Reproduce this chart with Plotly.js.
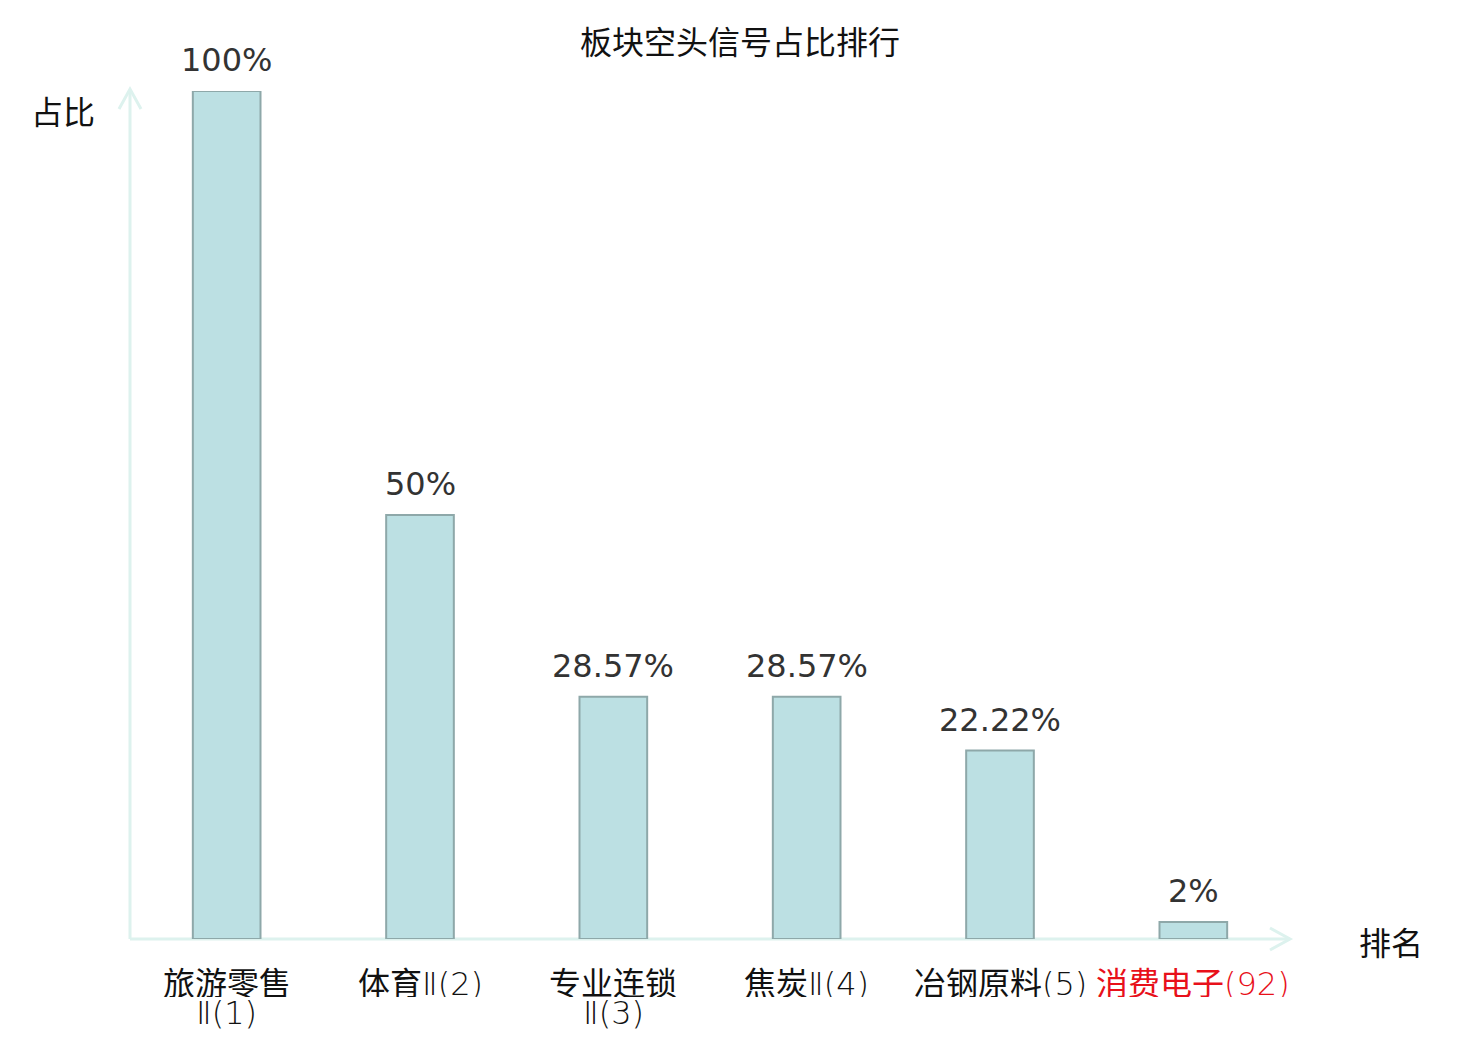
<!DOCTYPE html>
<html>
<head>
<meta charset="utf-8">
<script src="https://cdn.plot.ly/plotly-3.0.1.min.js"></script>
<style>
  html, body { margin: 0; padding: 0; background: #fff; }
  #chart { width: 1480px; height: 1040px; }
</style>
</head>
<body>
<div id="chart"></div>
<script>
// 板块空头信号占比排行
const categories = ["旅游零售Ⅱ(1)", "体育Ⅱ(2)", "专业连锁Ⅱ(3)", "焦炭Ⅱ(4)", "冶钢原料(5)", "消费电子(92)"];
// tick labels, split into a Chinese part and a thin "Ⅱ(n)" part, wrapped like the original
const tickLine1 = ["旅游零售", "体育", "专业连锁", "焦炭", "冶钢原料", "消费电子"];
const tickSuffix = ["Ⅱ(1)", "Ⅱ(2)", "Ⅱ(3)", "Ⅱ(4)", "(5)", "(92)"];
const tickWrapped = [true, false, true, false, false, false];
const tickColors = ["#111111", "#111111", "#111111", "#111111", "#111111", "#e8101a"];
const shares = [100, 50, 28.57, 28.57, 22.22, 2];
const shareLabels = ["100%", "50%", "28.57%", "28.57%", "22.22%", "2%"];

const AXIS_COLOR = "#ddf2ee";
const CJK = "Noto Sans CJK SC, Noto Sans, sans-serif";
const thin = (s) => `<span style="font-family:'DejaVu Sans','Noto Sans CJK SC';font-weight:200">${s}</span>`;

const bars = {
  type: "bar",
  x: categories,
  y: shares,
  width: 0.35,
  marker: { color: "#bce0e3", line: { color: "#8ea8a9", width: 2 } },
  hoverinfo: "skip",
  showlegend: false,
};

const valueNotes = categories.map((c, i) => ({
  x: c,
  y: shares[i],
  xref: "x",
  yref: "y",
  text: shareLabels[i],
  showarrow: false,
  yanchor: "bottom",
  yshift: 10,
  font: { family: "DejaVu Sans, sans-serif", size: 32, color: "#333333" },
}));

const tickNotes = [];
categories.forEach((c, i) => {
  const base = {
    x: c, xref: "x", yref: "paper", y: 0,
    showarrow: false, xanchor: "center", yanchor: "middle", height: 32,
    font: { family: CJK, size: 32, color: tickColors[i] },
  };
  if (tickWrapped[i]) {
    tickNotes.push({ ...base, text: tickLine1[i], yshift: -42 });
    tickNotes.push({ ...base, text: thin(tickSuffix[i]), yshift: -74 });
  } else {
    tickNotes.push({ ...base, text: tickLine1[i] + thin(tickSuffix[i]), yshift: -42 });
  }
});

const layout = {
  width: 1480,
  height: 1040,
  margin: { l: 130, r: 190, t: 91, b: 101 },
  paper_bgcolor: "#ffffff",
  plot_bgcolor: "#ffffff",
  title: {
    text: "板块空头信号占比排行",
    x: 0.5,
    xref: "container",
    y: 1 - 43 / 1040,
    yref: "container",
    yanchor: "middle",
    font: { family: CJK, size: 32, color: "#111111" },
  },
  xaxis: {
    type: "category",
    range: [-0.5, 5.5],
    showticklabels: false,
    ticks: "",
    showline: false,
    showgrid: false,
    zeroline: false,
  },
  yaxis: {
    range: [0, 100],
    showticklabels: false,
    ticks: "",
    showline: false,
    showgrid: false,
    zeroline: false,
  },
  shapes: [
    { type: "line", xref: "paper", yref: "paper", x0: 0, x1: 0, y0: 0, y1: 1,
      line: { color: AXIS_COLOR, width: 3 }, layer: "below" },
    { type: "line", xref: "paper", yref: "paper", x0: 0, x1: 1, y0: 0, y1: 0,
      line: { color: AXIS_COLOR, width: 3 }, layer: "below" },
    { type: "path", xref: "paper", yref: "paper", xsizemode: "pixel", ysizemode: "pixel",
      xanchor: 0, yanchor: 1, path: "M-11,-18 L0,2 L11,-18",
      line: { color: AXIS_COLOR, width: 3 }, layer: "below" },
    { type: "path", xref: "paper", yref: "paper", xsizemode: "pixel", ysizemode: "pixel",
      xanchor: 1, yanchor: 0, path: "M-20,11 L0,0 L-20,-11",
      line: { color: AXIS_COLOR, width: 3 }, layer: "below" },
  ],
  annotations: [
    ...valueNotes,
    ...tickNotes,
    { xref: "paper", yref: "paper", x: 0, y: 1, xshift: -67, yshift: -19,
      text: "占比", showarrow: false, xanchor: "center", yanchor: "middle",
      font: { family: CJK, size: 32, color: "#111111" } },
    { xref: "paper", yref: "paper", x: 1, y: 0, xshift: 101, yshift: -2,
      text: "排名", showarrow: false, xanchor: "center", yanchor: "middle",
      font: { family: CJK, size: 32, color: "#111111" } },
  ],
};

Plotly.newPlot("chart", [bars], layout, { displayModeBar: false, staticPlot: true });
</script>
</body>
</html>
